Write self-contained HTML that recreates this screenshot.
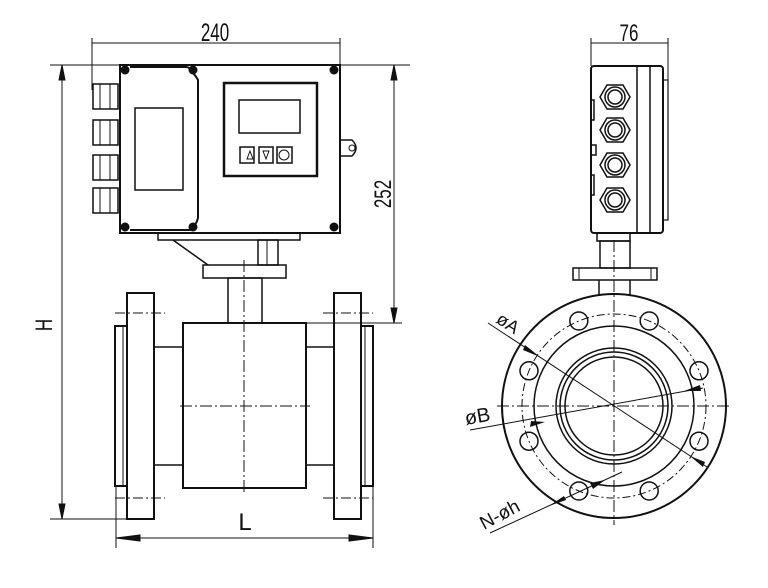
<!DOCTYPE html>
<html><head><meta charset="utf-8"><style>
html,body{margin:0;padding:0;background:#fff;}
svg{display:block}
text{font-family:"Liberation Sans Narrow","Liberation Sans",sans-serif;fill:#111}
</style></head><body>
<svg width="768" height="588" viewBox="0 0 768 588" xmlns="http://www.w3.org/2000/svg">
<g fill="none" stroke="#111" stroke-width="1">
<line x1="92" y1="43" x2="340" y2="43"/>
<line x1="92" y1="38" x2="92" y2="90"/>
<line x1="340" y1="38" x2="340" y2="65"/>
<line x1="50" y1="65" x2="410" y2="65"/>
<line x1="62" y1="65" x2="62" y2="519"/>
<polygon points="62,65 59,80 65,80" fill="#111"/>
<polygon points="62,519 59,504 65,504" fill="#111"/>
<line x1="50" y1="519" x2="127" y2="519"/>
<line x1="394" y1="65" x2="394" y2="323"/>
<polygon points="394,65 391,80 397,80" fill="#111"/>
<polygon points="394,323 391,308 397,308" fill="#111"/>
<line x1="306" y1="323" x2="402" y2="323"/>
<line x1="116" y1="538" x2="373" y2="538"/>
<line x1="116" y1="486" x2="116" y2="548"/>
<line x1="373" y1="486" x2="373" y2="548"/>
<polygon points="116,538 140,535 140,541" fill="#111"/>
<polygon points="373,538 349,535 349,541" fill="#111"/>
</g>
<g fill="none" stroke="#111" stroke-width="2">
<rect x="120" y="65" width="220" height="168"/>
<path d="M130,67 H186 Q190,67 192,72 Q196,76 198,80 V218 Q196,226 190,230 H130"/>
<rect x="135" y="108" width="48" height="82" stroke-width="1.5"/>
<rect x="224" y="83" width="93" height="93" stroke-width="2.5"/>
<rect x="239" y="100" width="61" height="33" stroke-width="1.5"/>
<rect x="240" y="147" width="14" height="16" stroke-width="1.5"/>
<rect x="259" y="147" width="14" height="16" stroke-width="1.5"/>
<rect x="277" y="147" width="15" height="16" stroke-width="1.5"/>
<rect x="93" y="84" width="25" height="25" stroke-width="1.5"/>
<rect x="93" y="120" width="25" height="25" stroke-width="1.5"/>
<rect x="93" y="155" width="25" height="25" stroke-width="1.5"/>
<rect x="93" y="188" width="25" height="25" stroke-width="1.5"/>
<path d="M340,140 H352 Q360,148 352,156 H340" stroke-width="1.5"/>
<rect x="158" y="233" width="142" height="7" stroke-width="1.5"/>
<line x1="173" y1="240" x2="208" y2="265" stroke-width="1.5"/>
<rect x="258" y="240" width="20" height="25" stroke-width="1.5"/>
<rect x="203" y="265" width="83" height="13" stroke-width="1.5"/>
<rect x="228" y="278" width="34" height="45" stroke-width="1.5"/>
<rect x="183" y="323" width="123" height="165"/>
<rect x="154" y="347" width="29" height="118" stroke-width="1.5"/>
<rect x="306" y="347" width="28" height="118" stroke-width="1.5"/>
<rect x="127" y="293" width="27" height="226"/>
<rect x="115" y="326" width="12" height="160"/>
<rect x="334" y="293" width="27" height="226"/>
<rect x="361" y="326" width="12" height="160"/>
</g>
<g fill="none" stroke="#111" stroke-width="1">
<path d="M100,84 V109 M110,84 V109 M100,120 V145 M110,120 V145 M100,155 V180 M110,155 V180 M100,188 V213 M110,188 V213"/>
<g fill="#111"><circle cx="125" cy="70" r="4"/><circle cx="193" cy="70" r="4"/><circle cx="334" cy="70" r="4"/><circle cx="125" cy="227" r="4"/><circle cx="193" cy="227" r="4"/><circle cx="334" cy="227" r="4"/></g>
<circle cx="352" cy="148" r="3"/>
<polygon points="247,159 250,151 253,159"/>
<polygon points="263,151 266,159 269,151"/>
<circle cx="284" cy="155" r="5"/>
<line x1="267" y1="240" x2="267" y2="265"/>
<line x1="115" y1="313" x2="165" y2="313" stroke-dasharray="10,3,2,3"/>
<line x1="115" y1="498" x2="165" y2="498" stroke-dasharray="10,3,2,3"/>
<line x1="323" y1="313" x2="373" y2="313" stroke-dasharray="10,3,2,3"/>
<line x1="323" y1="498" x2="373" y2="498" stroke-dasharray="10,3,2,3"/>
<line x1="244" y1="260" x2="244" y2="492" stroke-dasharray="12,3,2,3"/>
<line x1="180" y1="406" x2="310" y2="406" stroke-dasharray="12,3,2,3"/>
<line x1="123" y1="326" x2="123" y2="486"/>
<line x1="365" y1="326" x2="365" y2="486"/>
<line x1="591" y1="43" x2="668" y2="43"/>
<line x1="591" y1="38" x2="591" y2="66"/>
<line x1="668" y1="38" x2="668" y2="80"/>
</g>
<g fill="none" stroke="#111" stroke-width="2">
<rect x="591" y="66" width="72" height="167" rx="3"/>
<line x1="637" y1="66" x2="637" y2="233" stroke-width="1.5"/>
<line x1="650" y1="66" x2="650" y2="233" stroke-width="1.5"/>
<rect x="663" y="80" width="5" height="140" stroke-width="1.2"/>
<rect x="597" y="233" width="33" height="8" stroke-width="1.5"/>
<rect x="600" y="241" width="30" height="27" stroke-width="1.5"/>
<rect x="573" y="268" width="84" height="12" stroke-width="1.5"/>
<line x1="599" y1="280" x2="599" y2="296" stroke-width="1.5"/>
<line x1="630" y1="280" x2="630" y2="296" stroke-width="1.5"/>
<circle cx="614" cy="406" r="112"/>
<circle cx="614" cy="406" r="80" stroke-width="1.5"/>
<circle cx="614" cy="406" r="58" stroke-width="1.5"/>
<circle cx="614" cy="406" r="54" stroke-width="1.5"/>
<circle cx="614" cy="406" r="49" stroke-width="1.5"/>
</g>
<g fill="none" stroke="#111" stroke-width="1.5">
<path d="M591,100 h3 v20 h-3 M591,145 h5 v10 h-5 M591,175 h3 v20 h-3"/>
<g id="gl">
<polygon points="600,97 607,85 623,85 630,97 623,109 607,109"/>
<circle cx="615" cy="97" r="10"/><circle cx="615" cy="97" r="7"/>
</g>
<use href="#gl" y="33"/><use href="#gl" y="68"/><use href="#gl" y="103"/>
<line x1="579" y1="268" x2="579" y2="280" stroke-width="1"/>
<line x1="651" y1="268" x2="651" y2="280" stroke-width="1"/>
<circle cx="614" cy="406" r="92" stroke-width="1" stroke-dasharray="8,3,2,3"/>
<circle cx="578.8" cy="321" r="9"/><circle cx="649.2" cy="321" r="9"/>
<circle cx="699" cy="370.8" r="9"/><circle cx="699" cy="441.2" r="9"/>
<circle cx="649.2" cy="491" r="9"/><circle cx="578.8" cy="491" r="9"/>
<circle cx="529" cy="441.2" r="9"/><circle cx="529" cy="370.8" r="9"/>
</g>
<g fill="none" stroke="#111" stroke-width="1">
<line x1="614" y1="240" x2="614" y2="525" stroke-dasharray="12,3,2,3"/>
<line x1="497" y1="406" x2="731" y2="406" stroke-dasharray="12,3,2,3"/>
<line x1="488" y1="323" x2="707" y2="467"/>
<line x1="470" y1="430" x2="703" y2="388"/>
<line x1="490" y1="533" x2="622" y2="472"/>
</g>
<g fill="#111">
<polygon points="540,357 525,345 523,350"/>
<polygon points="690,456 705,462 703,467"/>
<polygon points="545,422 530,427 531,421"/>
<polygon points="684,391 700,385 701,391"/>
<polygon points="605,480 590,483 593,489"/>
<polygon points="549,506 566,500 564,496"/>
</g>
<text font-size="20" text-anchor="middle" transform="translate(215,41) scale(0.85,1.25)">240</text>
<text font-size="20" text-anchor="middle" transform="translate(629,41) scale(0.85,1.2)">76</text>
<text font-size="20" text-anchor="middle" transform="translate(391,194) rotate(-90) scale(0.85,1.2)">252</text>
<text font-size="20" text-anchor="middle" transform="translate(52,325) rotate(-90) scale(0.85,1.2)">H</text>
<text x="245" y="530" font-size="24" text-anchor="middle" font-family="Liberation Serif, serif">L</text>
<text font-size="18" font-family="Liberation Serif, serif" transform="translate(495,322) rotate(33)">øA</text>
<text x="466" y="425" font-size="20" font-family="Liberation Serif, serif" transform="rotate(-10 466 425)">øB</text>
<text font-size="19" font-family="Liberation Serif, serif" transform="translate(484,530) rotate(-28)">N-øh</text>
</svg>
</body></html>
